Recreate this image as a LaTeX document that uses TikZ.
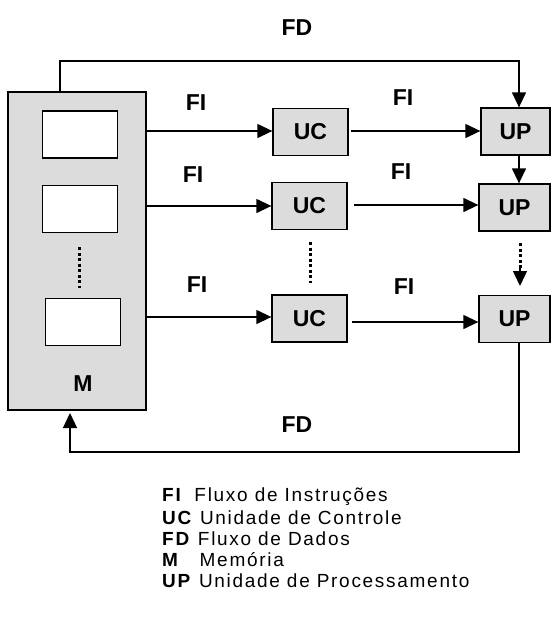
\documentclass[tikz,border=0pt]{standalone}
\usepackage{fontspec}
\setmainfont{Liberation Sans}
\usetikzlibrary{arrows.meta}
\definecolor{boxgray}{RGB}{220,220,220}
\begin{document}
\begin{tikzpicture}[x=1pt,y=-1pt,
  lbl/.style={font=\fontsize{23}{26}\selectfont\bfseries, inner sep=0pt},
  graybox/.style={draw, fill=boxgray, line width=1.3pt, inner sep=0pt},
  whitebox/.style={draw, fill=white, line width=1.3pt, inner sep=0pt, minimum width=75pt, minimum height=47pt},
  unitbox/.style={graybox, font=\fontsize{23}{26}\selectfont\bfseries, minimum height=47pt},
  arr/.style={line width=1.3pt, -{Triangle[length=15pt,width=14pt]}},
  dotline/.style={line width=3pt, dash pattern=on 3pt off 2.5pt},
  legend/.style={anchor=west, inner sep=0pt, font=\fontsize{19}{22}\selectfont\addfontfeatures{LetterSpace=9}}
]
\useasboundingbox (0,0) rectangle (553,625);
% memory
\node[graybox, minimum width=138pt, minimum height=318pt] (m) at (77,251) {};
\node[whitebox] (w1) at (80,134.5) {};
\node[whitebox] (w2) at (80,209) {};
\node[whitebox] (w3) at (83,322) {};
\node[lbl] (mlab) at (83,384) {M};
\coordinate (md1) at (79,247);
\coordinate (md2) at (79,288);
\draw[dotline] (md1) -- (md2);
% UC
\node[unitbox, minimum width=75pt] (uc1) at (310.5,132) {UC};
\node[unitbox, minimum width=75pt] (uc2) at (309.5,206) {UC};
\node[unitbox, minimum width=75pt] (uc3) at (309.5,318.5) {UC};
\coordinate (ud1) at (310,242);
\coordinate (ud2) at (310,283);
\draw[dotline] (ud1) -- (ud2);
% UP
\node[unitbox, minimum width=69pt] (up1) at (515.5,131.5) {UP};
\node[unitbox, minimum width=71pt] (up2) at (514.5,207.5) {UP};
\node[unitbox, minimum width=71pt] (up3) at (514.5,319) {UP};
% M -> UC
\coordinate (a1) at (146,131);
\coordinate (a2) at (146,206);
\coordinate (a3) at (146,317);
\draw[arr] (a1) -- (uc1.west |- a1);
\draw[arr] (a2) -- (uc2.west |- a2);
\draw[arr] (a3) -- (uc3.west |- a3);
% UC -> UP
\coordinate (b1) at (351,131);
\coordinate (b2) at (354,205);
\coordinate (b3) at (352,322);
\draw[arr] (b1) -- (up1.west |- b1);
\draw[arr] (b2) -- (up2.west |- b2);
\draw[arr] (b3) -- (up3.west |- b3);
% FD top
\coordinate (fdL) at (60,61);
\coordinate (fdR) at (519,61);
\draw[arr] (fdL |- m.north) -- (fdL) -- (fdR) -- (fdR |- up1.north);
% UP1 -> UP2
\draw[arr] (fdR |- up1.south) -- (fdR |- up2.north);
% dotted arrow
\coordinate (dA) at (520,243);
\coordinate (dB) at (520,268);
\coordinate (dC) at (520,286);
\draw[dotline] (dA) -- (dB);
\draw[arr] (dB) -- (dC);
% FD bottom
\coordinate (bR) at (519,452);
\coordinate (bL) at (70,452);
\coordinate (bT) at (70,413);
\draw[arr] (bR |- up3.south) -- (bR) -- (bL) -- (bT);
% labels
\node[lbl] (fdt) at (297,28) {FD};
\node[lbl] (fdb) at (297,425) {FD};
\node[lbl] (fi1) at (196,103) {FI};
\node[lbl] (fi2) at (193,175) {FI};
\node[lbl] (fi3) at (197,285) {FI};
\node[lbl] (fi4) at (403,98) {FI};
\node[lbl] (fi5) at (401,172) {FI};
\node[lbl] (fi6) at (404,287) {FI};
% legend
\node[legend] (l1) at (162,497) {\textbf{FI}\hspace{5pt} Fluxo de Instruções};
\node[legend] (l2) at (162,518) {\textbf{UC} Unidade de Controle};
\node[legend] (l3) at (162,539) {\textbf{FD} Fluxo de Dados};
\node[legend] (l4) at (162,560) {\textbf{M}\hspace{13pt} Memória};
\node[legend] (l5) at (162,581) {\textbf{UP} Unidade de Processamento};
\end{tikzpicture}
\end{document}
